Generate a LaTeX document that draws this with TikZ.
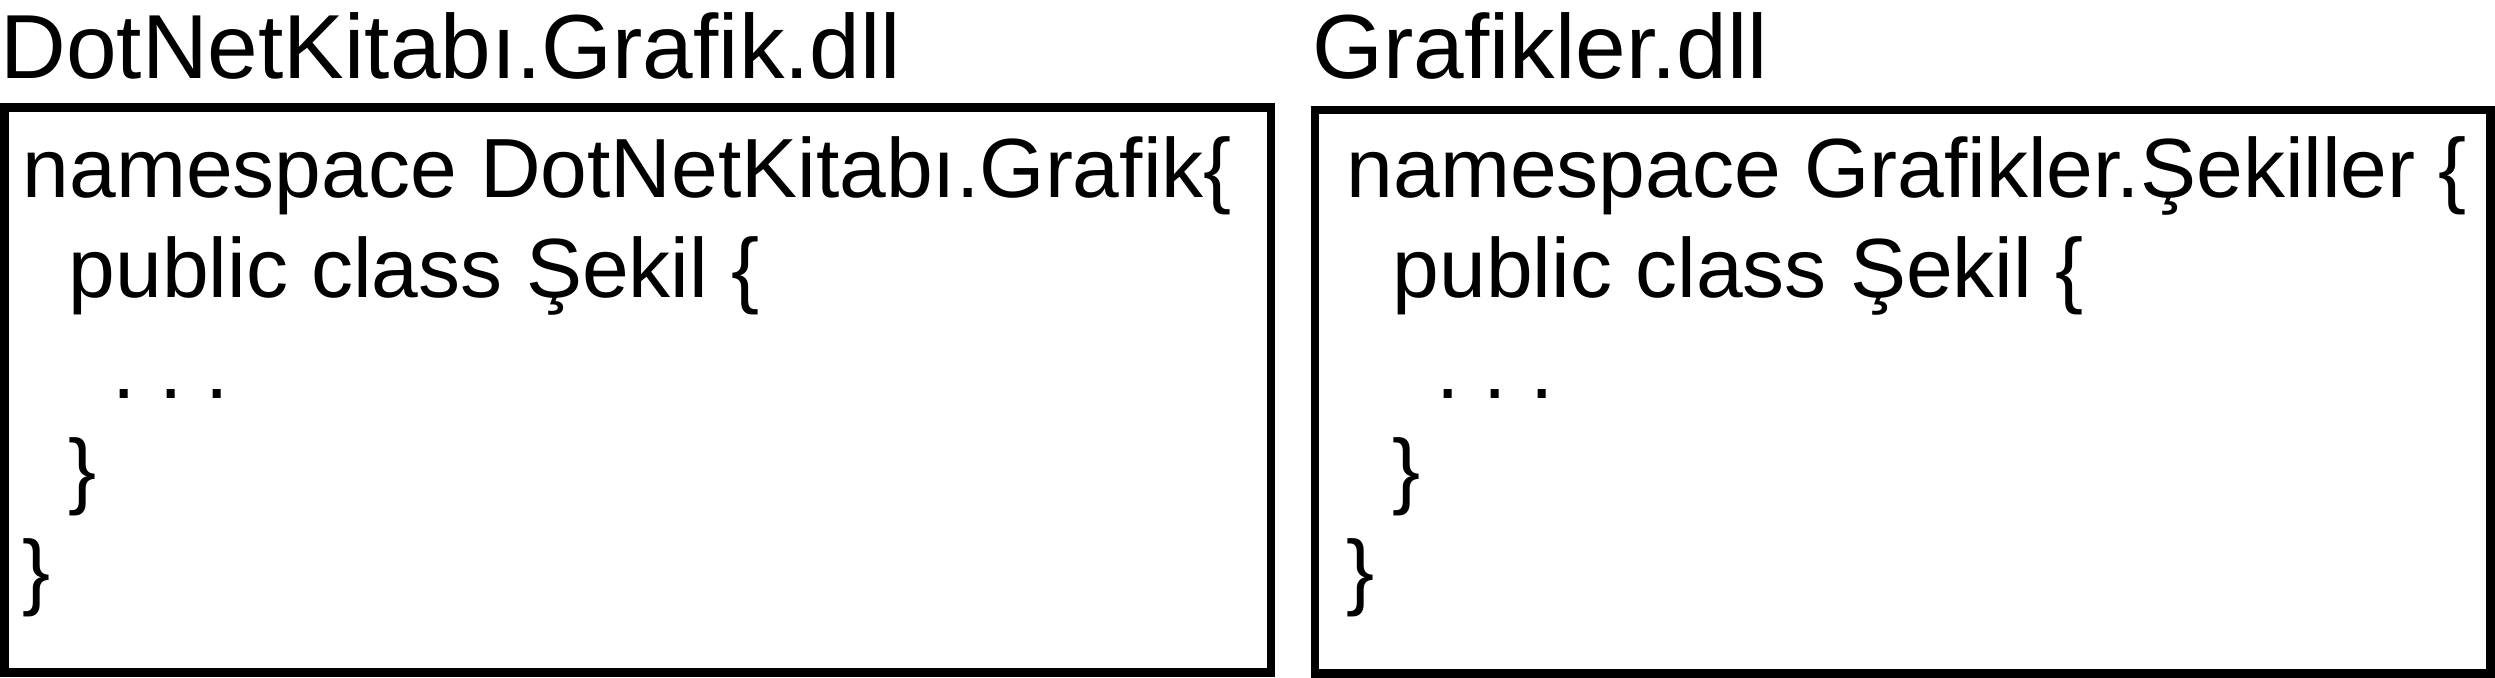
\documentclass[tikz,border=0pt]{standalone}
\usepackage{fontspec}
\setmainfont{Liberation Sans}
\frenchspacing
\begin{document}
\begin{tikzpicture}[x=0.3pt,y=-0.3pt,
  box/.style={draw=black,line width=2.55pt},
  title/.style={anchor=base west,inner sep=0pt,font=\fontsize{27.3pt}{32pt}\selectfont},
  code/.style={anchor=base west,inner sep=0pt,font=\fontsize{25.2pt}{30pt}\selectfont}]
\useasboundingbox (0,0) rectangle (2495,678);
% left
\node[title] (t1) at (0,79) {DotNetKitabı.Grafik.dll};
\draw[box] (4.5,107.5) rectangle (1271,672.5);
\node[code] (a1) at (22,198) {namespace DotNetKitabı.Grafik\{};
\node[code] (a2) at (68,298) {public class Şekil \{};
\node[code] (a3) at (112,398) {. . .};
\node[code] (a4) at (68,499) {\}};
\node[code] (a5) at (22,599) {\}};
% right
\node[title] (t2) at (1312,79) {Grafikler.dll};
\draw[box] (1315,110) rectangle (2490.5,673.5);
\node[code] (b1) at (1346,198) {namespace Grafikler.Şekiller \{};
\node[code] (b2) at (1392,298) {public class Şekil \{};
\node[code] (b3) at (1436,398) {. . .};
\node[code] (b4) at (1392,499) {\}};
\node[code] (b5) at (1346,599) {\}};
\end{tikzpicture}
\end{document}
